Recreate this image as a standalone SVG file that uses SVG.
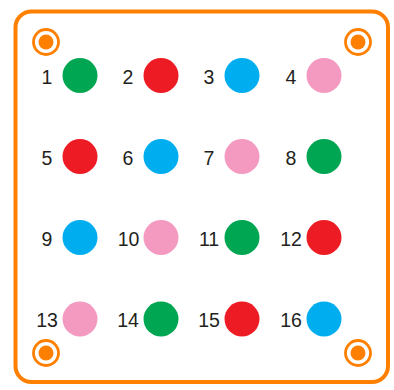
<svg xmlns="http://www.w3.org/2000/svg" width="394" height="390" viewBox="0 0 394 390">
<style>
.frame{fill:#fff;stroke:#FF8000;stroke-width:4}
.ring{fill:none;stroke:#FF8000;stroke-width:2.8}
.hole{fill:#FF8000}
.lbl{font-family:"Liberation Sans",Arial,sans-serif;font-size:19.5px;fill:#231F20;text-anchor:middle}
.g{fill:#00A651}.r{fill:#ED1C24}.b{fill:#00AEEF}.p{fill:#F49AC1}
</style>
<rect class="frame" x="15.5" y="11.5" width="372.5" height="370.5" rx="16"/>
<g id="mount-holes">
<circle class="ring" cx="46" cy="42" r="12.5"/><circle class="hole" cx="46" cy="42" r="7.5"/>
<circle class="ring" cx="358" cy="42" r="12.5"/><circle class="hole" cx="358" cy="42" r="7.5"/>
<circle class="ring" cx="46" cy="353" r="12.5"/><circle class="hole" cx="46" cy="353" r="7.5"/>
<circle class="ring" cx="358" cy="353" r="12.5"/><circle class="hole" cx="358" cy="353" r="7.5"/>
</g>
<g id="connectors"/>
<g id="n1"><circle class="g" cx="80" cy="75.5" r="17.5"/><text class="lbl" x="47" y="83.5">1</text></g>
<g id="n2"><circle class="r" cx="161" cy="75.5" r="17.5"/><text class="lbl" x="128" y="83.5">2</text></g>
<g id="n3"><circle class="b" cx="242" cy="75.5" r="17.5"/><text class="lbl" x="209" y="83.5">3</text></g>
<g id="n4"><circle class="p" cx="324" cy="75.5" r="17.5"/><text class="lbl" x="291" y="83.5">4</text></g>
<g id="n5"><circle class="r" cx="80" cy="156.5" r="17.5"/><text class="lbl" x="47" y="164.5">5</text></g>
<g id="n6"><circle class="b" cx="161" cy="156.5" r="17.5"/><text class="lbl" x="128" y="164.5">6</text></g>
<g id="n7"><circle class="p" cx="242" cy="156.5" r="17.5"/><text class="lbl" x="209" y="164.5">7</text></g>
<g id="n8"><circle class="g" cx="324" cy="156.5" r="17.5"/><text class="lbl" x="291" y="164.5">8</text></g>
<g id="n9"><circle class="b" cx="80" cy="237.5" r="17.5"/><text class="lbl" x="47" y="246">9</text></g>
<g id="n10"><circle class="p" cx="161" cy="237.5" r="17.5"/><text class="lbl" x="128.5" y="246">10</text></g>
<g id="n11"><circle class="g" cx="242" cy="237.5" r="17.5"/><text class="lbl" x="209" y="246">11</text></g>
<g id="n12"><circle class="r" cx="324" cy="237.5" r="17.5"/><text class="lbl" x="291" y="246">12</text></g>
<g id="n13"><circle class="p" cx="80" cy="319" r="17.5"/><text class="lbl" x="47" y="327">13</text></g>
<g id="n14"><circle class="g" cx="161" cy="319" r="17.5"/><text class="lbl" x="128" y="327">14</text></g>
<g id="n15"><circle class="r" cx="242" cy="319" r="17.5"/><text class="lbl" x="209" y="327">15</text></g>
<g id="n16"><circle class="b" cx="324" cy="319" r="17.5"/><text class="lbl" x="291" y="327">16</text></g>
</svg>
